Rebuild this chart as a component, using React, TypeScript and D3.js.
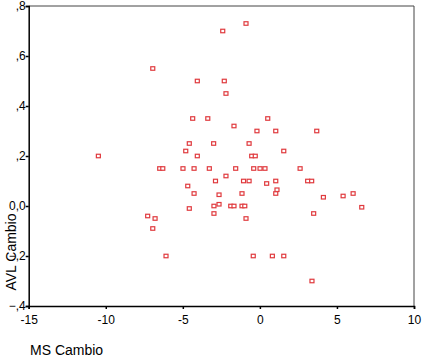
import React, { useRef, useEffect } from "react";
import * as d3 from "d3";

// MS Cambio (x) and AVL Cambio (y)
const msCambio = [
  -6.95, -4.06, -4.36, -3.38, -4.58, -4.81, -4.06, -10.48, -6.5, -6.3,
  -4.99, -4.27, -3.28, -0.9, -2.41, -2.31, -2.2, 0.51, -1.68, -0.19,
  1.03, 3.69, -3.0, -0.7, -0.53, -0.3, 1.55, -1.57, -0.4, 0.01,
  0.33, 2.61, -2.2, -2.88, -1.06, -0.7, 1.03, 3.1, 3.36, -4.68,
  -4.27, -4.58, -7.28, -6.8, -6.95, -6.09, 0.44, -2.65, -1.16, 1.11,
  1.03, 4.12, 5.4, 6.05, 6.61, -2.98, -2.65, -1.89, -1.68, -1.16,
  -0.98, -2.98, 3.49, -0.9, -0.43, 0.81, 1.55, 3.38,
];
const avlCambio = [
  0.55, 0.5, 0.35, 0.35, 0.25, 0.22, 0.2, 0.2, 0.15, 0.15,
  0.15, 0.15, 0.15, 0.73, 0.7, 0.5, 0.45, 0.35, 0.32, 0.3,
  0.3, 0.3, 0.25, 0.25, 0.2, 0.2, 0.22, 0.15, 0.15, 0.15,
  0.15, 0.15, 0.12, 0.1, 0.1, 0.1, 0.1, 0.1, 0.1, 0.08,
  0.05, -0.01, -0.04, -0.05, -0.09, -0.2, 0.09, 0.045, 0.05, 0.065,
  0.05, 0.035, 0.04, 0.05, -0.005, 0.0, 0.007, 0.0, 0.0, 0.0,
  0.0, -0.03, -0.03, -0.05, -0.2, -0.2, -0.2, -0.3,
];
const xTicks = [-15, -10, -5, 0, 5, 10];
const yTicks = [-0.4, -0.2, 0, 0.2, 0.4, 0.6, 0.8];

const fmtY = (v: number) => {
  if (Math.abs(v) < 1e-9) return "0,0";
  return d3.format(".1f")(v).replace("0.", ",");
};

const ScatterChart = () => {
  const svgRef = useRef<HTMLDivElement>(null);

  useEffect(() => {
    document.body.style.margin = "0";
    const width = 424;
    const height = 358;
    const margin = { top: 6, right: 10, bottom: 52, left: 28.7 };

    d3.select(svgRef.current).select("svg").remove();

    const svg = d3
      .select(svgRef.current)
      .append("svg")
      .attr("width", width)
      .attr("height", height)
      .style("display", "block")
      .style("font-family", "'Liberation Sans', Arial, sans-serif");

    const xScale = d3
      .scaleLinear()
      .domain([-15, 10])
      .range([margin.left, width - margin.right]);

    const yScale = d3
      .scaleLinear()
      .domain([-0.4, 0.8])
      .range([height - margin.bottom, margin.top]);

    const x0 = xScale(-15);
    const x1 = xScale(10);
    const y0 = yScale(-0.4);
    const y1 = yScale(0.8);

    // frame: top and right thin
    svg
      .append("path")
      .attr("d", `M${x0},${y1}H${x1}V${y0}`)
      .attr("fill", "none")
      .attr("stroke", "#444")
      .attr("stroke-width", 1);

    const xAxis = d3
      .axisBottom(xScale)
      .tickValues(xTicks)
      .tickSize(3)
      .tickPadding(6)
      .tickFormat((d) => String(d));

    const yAxis = d3
      .axisLeft(yScale)
      .tickValues(yTicks)
      .tickSize(3)
      .tickPadding(0)
      .tickFormat((d) => fmtY(d as number));

    const gx = svg
      .append("g")
      .attr("transform", `translate(0,${y0})`)
      .call(xAxis);
    gx.select(".domain").attr("stroke", "#000").attr("stroke-width", 1.5);
    gx.selectAll("line").attr("stroke-width", 1.5);
    gx.selectAll("text")
      .attr("fill", "#000")
      .style("font-size", "12px");

    const gy = svg
      .append("g")
      .attr("transform", `translate(${x0},0)`)
      .call(yAxis);
    gy.select(".domain").attr("stroke", "#000").attr("stroke-width", 1.5);
    gy.selectAll("line").attr("stroke-width", 1.5);
    gy.selectAll("text")
      .attr("fill", "#000")
      .style("font-size", "12px");

    svg
      .append("g")
      .selectAll("rect")
      .data(msCambio.map((x, i) => ({ x, y: avlCambio[i] })))
      .enter()
      .append("rect")
      .attr("x", (d) => xScale(d.x) - 2)
      .attr("y", (d) => yScale(d.y) - 1.75)
      .attr("width", 4)
      .attr("height", 3.5)
      .attr("fill", "#fff")
      .attr("stroke", "#e03a3e")
      .attr("stroke-width", 1.2);

    svg
      .append("text")
      .attr("transform", `translate(16,252) rotate(-90)`)
      .attr("text-anchor", "middle")
      .attr("fill", "#000")
      .style("font-size", "14px")
      .text("AVL Cambio");

    svg
      .append("text")
      .attr("x", 30)
      .attr("y", 355)
      .attr("fill", "#000")
      .style("font-size", "14px")
      .text("MS Cambio");
  }, []);

  return <div ref={svgRef}></div>;
};

export default function App() {
  return <ScatterChart />;
}
